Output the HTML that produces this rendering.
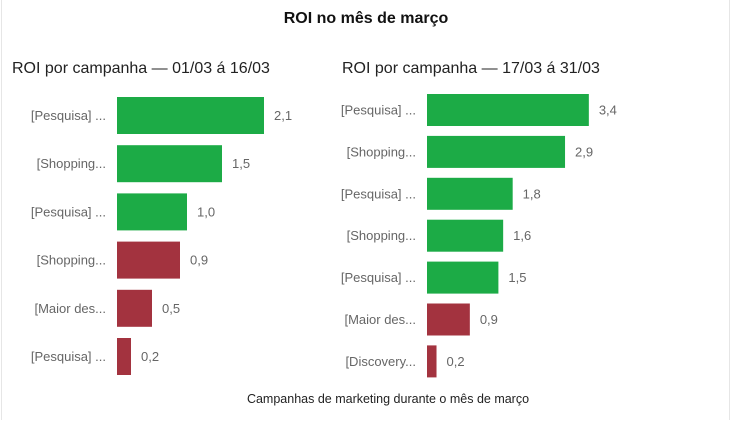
<!DOCTYPE html>
<html><head><meta charset="utf-8"><style>
html,body{margin:0;padding:0;background:#fff}
body{width:732px;height:421px;position:relative;overflow:hidden;font-family:"Liberation Sans",sans-serif}
.frame{position:absolute;left:1px;top:0;width:729px;height:420px;border-left:1px solid #e6e6e6;border-right:1px solid #e6e6e6;box-sizing:border-box}
</style></head><body>
<div class="frame"></div>
<svg id="c" width="732" height="421" style="position:absolute;left:0;top:0">
<text x="366" y="23" text-anchor="middle" font-size="16" font-weight="bold" fill="#111">ROI no mês de março</text>
<text x="12" y="73" font-size="16" fill="#222">ROI por campanha — 01/03 á 16/03</text>
<text x="342" y="73" font-size="16" fill="#222">ROI por campanha — 17/03 á 31/03</text>
<text x="388" y="403" text-anchor="middle" font-size="12.5" fill="#222">Campanhas de marketing durante o mês de março</text>
</svg>
<script>
const leftCats=["[Pesquisa] ...","[Shopping...","[Pesquisa] ...","[Shopping...","[Maior des...","[Pesquisa] ..."];
const leftVals=[2.1,1.5,1.0,0.9,0.5,0.2];
const leftLabels=["2,1","1,5","1,0","0,9","0,5","0,2"];
const rightCats=["[Pesquisa] ...","[Shopping...","[Pesquisa] ...","[Shopping...","[Pesquisa] ...","[Maior des...","[Discovery..."];
const rightVals=[3.4,2.9,1.8,1.6,1.5,0.9,0.2];
const rightLabels=["3,4","2,9","1,8","1,6","1,5","0,9","0,2"];
const svg=document.getElementById('c');
const NS='http://www.w3.org/2000/svg';
function draw(cats,vals,labs,x0,scale,y0,step,bh){
  cats.forEach((c,i)=>{
    const y=y0+i*step;
    const w=vals[i]*scale;
    const r=document.createElementNS(NS,'rect');
    r.setAttribute('x',x0);r.setAttribute('y',y);r.setAttribute('width',w);r.setAttribute('height',bh);
    r.setAttribute('fill',vals[i]>=1?'#1cab46':'#a3333f');
    
    
    svg.appendChild(r);
    const t=document.createElementNS(NS,'text');
    t.setAttribute('x',x0-11);t.setAttribute('y',y+bh/2+4.5);t.setAttribute('text-anchor','end');
    t.setAttribute('font-size','13');t.setAttribute('fill','#666');t.textContent=c;
    
    
    svg.appendChild(t);
    const v=document.createElementNS(NS,'text');
    v.setAttribute('x',x0+w+10);v.setAttribute('y',y+bh/2+4.5);
    v.setAttribute('font-size','13');v.setAttribute('fill','#666');v.textContent=labs[i];
    
    
    svg.appendChild(v);
  });
}
draw(leftCats,leftVals,leftLabels,117,70,97,48.2,37);
draw(rightCats,rightVals,rightLabels,427,47.6,94,41.9,32);
</script>
</body></html>
